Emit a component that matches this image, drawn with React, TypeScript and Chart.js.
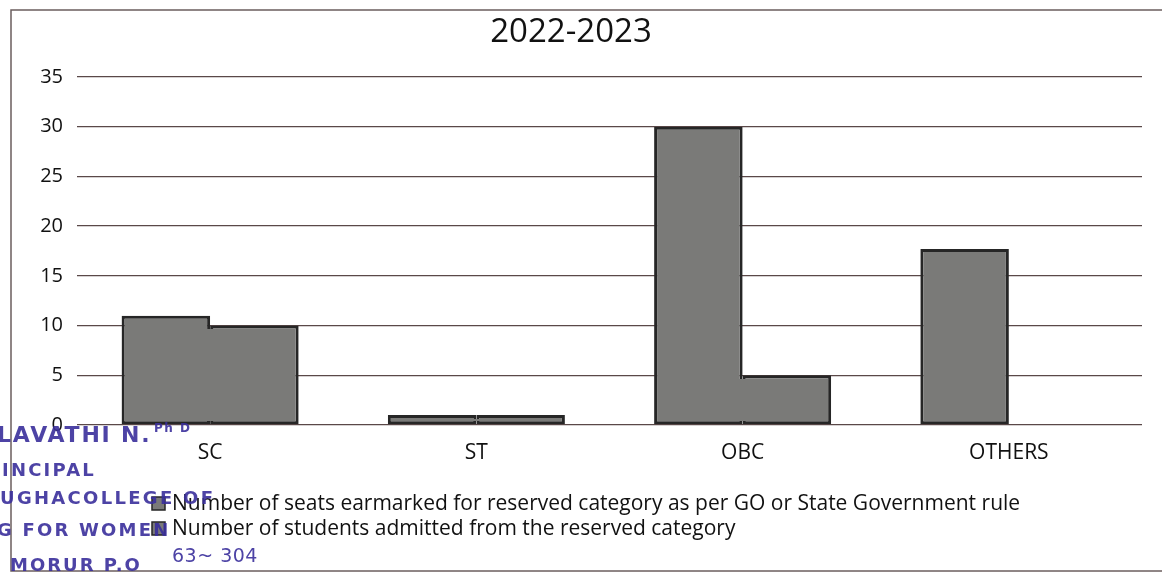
import React, { useEffect, useRef } from 'react';
import { Chart, registerables } from 'chart.js';

Chart.register(...registerables);

const chartTitle = '2022-2023';
const categories = ['SC', 'ST', 'OBC', 'OTHERS'];
const seriesLabels = [
  'Number of seats earmarked for reserved category as per GO or State Government rule',
  'Number of students admitted from the reserved category',
];
const seatsEarmarked = [11, 1, 30, 17.7];
const studentsAdmitted = [10, 1, 5, 0];
const yMin = 0;
const yMax = 35;
const yStep = 5;

const stampLines = [
  { text: 'LAVATHI N.', left: -3, top: 424, size: 22, spacing: 1.8, weight: 700 },
  { text: 'Ph D', left: 154, top: 422, size: 12, spacing: 1.5, weight: 700 },
  { text: 'INCIPAL', left: 2, top: 461, size: 18, spacing: 2.2, weight: 700 },
  { text: 'UGHACOLLEGE OF', left: 0, top: 489, size: 18, spacing: 2.3, weight: 700 },
  { text: 'G FOR WOMEN', left: -3, top: 521, size: 18, spacing: 2.2, weight: 700 },
  { text: 'MORUR P.O', left: 10, top: 556, size: 18, spacing: 2, weight: 700 },
  { text: '63~ 304', left: 172, top: 546, size: 19, spacing: 0.5, weight: 400 },
];

const FONT = '"Open Sans", "Noto Sans", sans-serif';
const BAR_FILL = '#7a7a78';
const BAR_EDGE = '#262626';
const EDGE_W = 3;

const framePlugin = {
  id: 'frame',
  beforeDraw(chart: any) {
    const ctx = chart.ctx;
    ctx.save();
    ctx.fillStyle = '#ffffff';
    ctx.fillRect(0, 0, chart.width, chart.height);
    ctx.strokeStyle = '#6b5e5e';
    ctx.lineWidth = 1.5;
    ctx.strokeRect(11, 10, chart.width + 20, chart.height - 12);
    ctx.restore();
  },
};

// Erase the inner border where the two bars of a category touch, so the pair reads as one outline
const mergePlugin = {
  id: 'mergeBars',
  afterDatasetsDraw(chart: any) {
    const m0 = chart.getDatasetMeta(0);
    const m1 = chart.getDatasetMeta(1);
    if (!m0 || !m1) return;
    const ctx = chart.ctx;
    ctx.save();
    ctx.fillStyle = BAR_FILL;
    m0.data.forEach((a: any, i: number) => {
      const b = m1.data[i];
      if (!a || !b) return;
      const pa = a.getProps(['x', 'y', 'base', 'width'], true);
      const pb = b.getProps(['x', 'y', 'base', 'width'], true);
      const ha = pa.base - pa.y;
      const hb = pb.base - pb.y;
      if (ha <= 0 || hb <= 0) return;
      const top = Math.ceil(Math.max(pa.y, pb.y) + EDGE_W);
      const bottom = Math.floor(pa.base - EDGE_W);
      if (bottom <= top) return;
      const x0 = Math.floor(pa.x + pa.width / 2 - EDGE_W);
      const x1 = Math.ceil(pb.x - pb.width / 2 + EDGE_W);
      ctx.fillRect(x0, top, x1 - x0, bottom - top);
    });
    ctx.restore();
  },
};

const legendPlugin = {
  id: 'stackedLegend',
  afterDraw(chart: any) {
    const ctx = chart.ctx;
    ctx.save();
    ctx.font = `21px ${FONT}`;
    ctx.textBaseline = 'middle';
    ctx.textAlign = 'left';
    chart.data.datasets.forEach((ds: any, i: number) => {
      const cy = 504 + i * 25;
      ctx.fillStyle = ds.backgroundColor;
      ctx.fillRect(152, cy - 7, 13, 13);
      ctx.strokeStyle = ds.borderColor;
      ctx.lineWidth = 1.5;
      ctx.strokeRect(152, cy - 7, 13, 13);
      ctx.fillStyle = '#111111';
      ctx.fillText(ds.label, 172, cy);
    });
    ctx.restore();
  },
};

function BarChart() {
  const canvasRef = useRef<HTMLCanvasElement | null>(null);

  useEffect(() => {
    if (!canvasRef.current) return;
    const barStyle = {
      backgroundColor: BAR_FILL,
      borderColor: BAR_EDGE,
      borderWidth: EDGE_W,
      borderSkipped: false,
      categoryPercentage: 0.665,
      barPercentage: 1,
    };
    const chart = new Chart(canvasRef.current, {
      type: 'bar',
      data: {
        labels: categories,
        datasets: [
          { label: seriesLabels[0], data: seatsEarmarked, ...barStyle },
          { label: seriesLabels[1], data: studentsAdmitted, ...barStyle },
        ],
      },
      options: {
        responsive: false,
        animation: false,
        devicePixelRatio: 1,
        layout: { padding: { left: 0, right: 20, top: 13, bottom: 0 } },
        plugins: {
          title: {
            display: true,
            text: chartTitle,
            color: '#111111',
            font: { family: FONT, size: 33, weight: 'normal' },
            padding: { top: 0, bottom: 24.4 },
          },
          legend: { display: false },
          tooltip: { enabled: false },
        },
        scales: {
          x: {
            grid: { display: false },
            border: { display: false },
            ticks: { color: '#111111', font: { family: FONT, size: 21 }, padding: 7 },
            afterFit: (s: any) => {
              s.height = 148;
            },
          },
          y: {
            min: yMin,
            max: yMax,
            ticks: { stepSize: yStep, color: '#111111', font: { family: FONT, size: 20 }, padding: 14 },
            grid: { color: '#5a4848', lineWidth: 1.3, drawTicks: false },
            border: { display: false },
            afterFit: (s: any) => {
              s.width = 77;
            },
          },
        },
      },
      plugins: [framePlugin, mergePlugin, legendPlugin],
    });
    return () => chart.destroy();
  }, []);

  return <canvas ref={canvasRef} width={1162} height={573} style={{ display: 'block' }} />;
}

export default function App() {
  return (
    <div style={{ position: 'absolute', left: 0, top: 0, width: 1162, height: 573, overflow: 'hidden', background: '#fff' }}>
      <BarChart />
      {stampLines.map((s, i) => (
        <div
          key={i}
          style={{
            position: 'absolute',
            left: s.left,
            top: s.top,
            fontSize: s.size,
            letterSpacing: s.spacing,
            fontWeight: s.weight,
            fontFamily: '"DejaVu Sans", sans-serif',
            color: '#3a2f9c',
            opacity: 0.9,
            lineHeight: 1,
            whiteSpace: 'nowrap',
            pointerEvents: 'none',
          }}
        >
          {s.text}
        </div>
      ))}
    </div>
  );
}
